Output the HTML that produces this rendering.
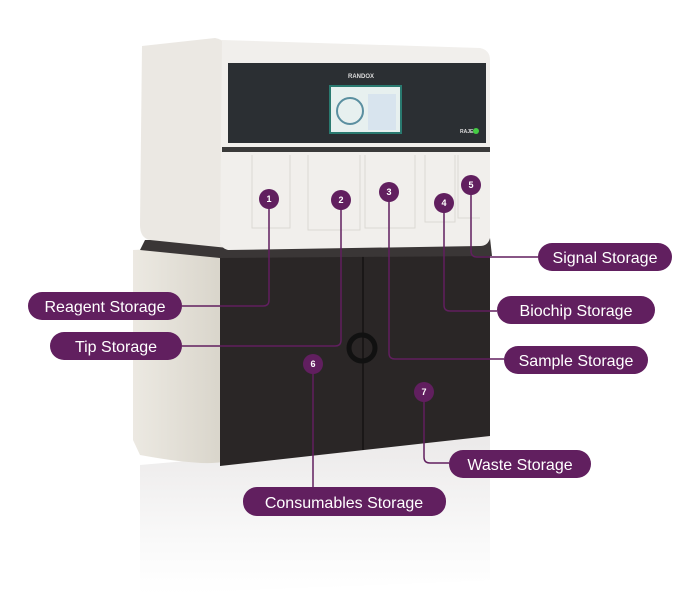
<!DOCTYPE html>
<html><head><style>
body{margin:0;background:#fff;}
svg{display:block}
text{font-family:"Liberation Sans",sans-serif;}
</style></head><body>
<svg width="700" height="600" viewBox="0 0 700 600" xmlns="http://www.w3.org/2000/svg">
<defs>
<linearGradient id="refl" x1="0" y1="0" x2="0" y2="1">
<stop offset="0" stop-color="#ebe9e9"/><stop offset="0.7" stop-color="#fafafa"/><stop offset="1" stop-color="#fff"/>
</linearGradient>
<linearGradient id="side" x1="0" y1="0" x2="1" y2="0">
<stop offset="0" stop-color="#ece9e2"/><stop offset="1" stop-color="#d9d5cb"/>
</linearGradient>
</defs>
<polygon points="140,465 490,435 490,580 140,595" fill="url(#refl)"/>
<path d="M133,250 L212,246 Q222,250 222,262 L222,462 Q200,466 140,455 L133,440 Z" fill="url(#side)"/>
<polygon points="220,254 490,246 490,436 220,466" fill="#2a2626"/>
<line x1="363" y1="256" x2="363" y2="450" stroke="#151212" stroke-width="1.5"/>
<circle cx="362" cy="348" r="13" fill="none" stroke="#111" stroke-width="5"/>
<polygon points="145,240 490,238 492,256 220,258 140,250" fill="#3a3636"/>
<path d="M142,46 L215,38 Q228,40 228,55 L228,248 L150,240 Q140,238 140,225 Z" fill="#ebe8e3"/>
<path d="M222,40 L480,48 Q490,50 490,60 L490,238 Q488,246 480,246 L228,250 Q220,248 220,240 Z" fill="#f1efec"/>
<rect x="228" y="63" width="258" height="80" fill="#2b2f33"/>
<rect x="222" y="147" width="268" height="5" fill="#3a3a3a"/>
<g fill="none" stroke="#dcd9d3" stroke-width="1">
<path d="M252,155 V228 H290 V155"/><path d="M308,155 V230 H360 V155"/><path d="M365,155 V228 H415 V155"/><path d="M425,155 V222 H455 V155"/><path d="M458,155 V218 H480"/>
</g>
<rect x="330" y="86" width="71" height="47" fill="#e7f0ef" stroke="#2a7a70" stroke-width="2"/>
<circle cx="350" cy="111" r="13" fill="none" stroke="#5a8fa0" stroke-width="2"/>
<rect x="368" y="94" width="28" height="36" fill="#d8e4ee"/>
<text x="361" y="78" font-size="6" fill="#ddd" text-anchor="middle" font-weight="bold">RANDOX</text>
<text x="460" y="133" font-size="5" fill="#ddd" font-weight="bold">RAJEA</text>
<circle cx="476" cy="131" r="3" fill="#4c4"/>
<g fill="none" stroke="#611f5f" stroke-width="1.5">
<path d="M269,199 V300 Q269,306 263,306 H182"/>
<path d="M341,200 V340 Q341,346 335,346 H182"/>
<path d="M389,192 V353 Q389,359 395,359 H504"/>
<path d="M444,203 V305 Q444,311 450,311 H497"/>
<path d="M471,185 V251 Q471,257 477,257 H538"/>
<path d="M313,364 V487"/>
<path d="M424,392 V457 Q424,463 430,463 H449"/>
</g>
<g fill="#611f5f">
<circle cx="269" cy="199" r="10"/><circle cx="341" cy="200" r="10"/><circle cx="389" cy="192" r="10"/>
<circle cx="444" cy="203" r="10"/><circle cx="471" cy="185" r="10"/><circle cx="313" cy="364" r="10"/><circle cx="424" cy="392" r="10"/>
<rect x="28" y="292" width="154" height="28" rx="14"/>
<rect x="50" y="332" width="132" height="28" rx="14"/>
<rect x="538" y="243" width="134" height="28" rx="14"/>
<rect x="497" y="296" width="158" height="28" rx="14"/>
<rect x="504" y="346" width="144" height="28" rx="14"/>
<rect x="449" y="450" width="142" height="28" rx="14"/>
<rect x="243" y="487" width="203" height="29" rx="14"/>
</g>
<g fill="#fff" font-size="9" font-weight="bold" text-anchor="middle">
<text x="269" y="202">1</text><text x="341" y="203">2</text><text x="389" y="195">3</text>
<text x="444" y="206">4</text><text x="471" y="188">5</text><text x="313" y="367">6</text><text x="424" y="395">7</text>
</g>
<g fill="#fff" font-size="16" text-anchor="middle">
<text x="105" y="312">Reagent Storage</text>
<text x="116" y="352">Tip Storage</text>
<text x="605" y="263">Signal Storage</text>
<text x="576" y="316">Biochip Storage</text>
<text x="576" y="366">Sample Storage</text>
<text x="520" y="470">Waste Storage</text>
<text x="344" y="508">Consumables Storage</text>
</g>
</svg>
</body></html>
